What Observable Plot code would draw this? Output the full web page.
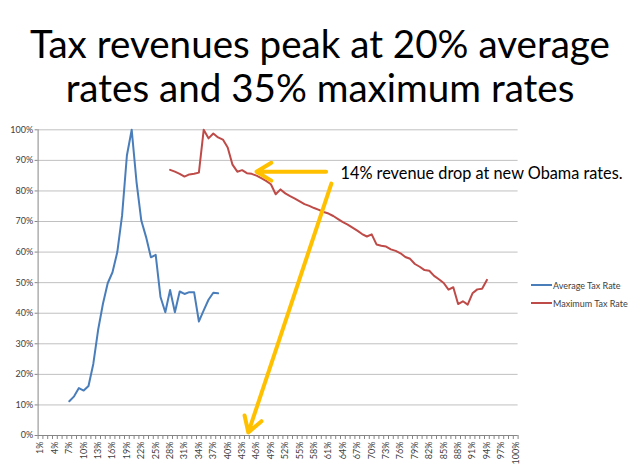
<!DOCTYPE html>
<html><head><meta charset="utf-8">
<script src="https://cdn.jsdelivr.net/npm/d3@7"></script>
<script src="https://cdn.jsdelivr.net/npm/@observablehq/plot@0.6"></script>
<style>
body{margin:0;background:#fff;font-family:Lato,sans-serif}
#wrap{position:relative;width:640px;height:470px;overflow:hidden;background:#fff}
#title{position:absolute;left:0;top:21px;width:640px;text-align:center;font-size:38.6px;line-height:44px;color:#000}
#chart{position:absolute;left:0;top:110px}
#legend{position:absolute;left:531px;top:276px;font-size:9px;color:#404040}
.item{display:flex;align-items:center;height:18px;white-space:nowrap}
.sw{width:21px;height:2px;margin-right:1px}
</style></head><body>
<div id="wrap">
<div id="title">Tax revenues peak at 20% average<br>rates and 35% maximum rates</div>
<div id="chart"></div>
<div id="legend"></div>
</div>
<script>
// Categories 1%..100% (tax rate)
const categories = d3.range(1, 101);
const xLabelTicks = d3.range(1, 101, 3);
const yTicks = [0, 10, 20, 30, 40, 50, 60, 70, 80, 90, 100];

const seriesNames = ["Average Tax Rate", "Maximum Tax Rate"];
const seriesColors = ["#4A7EBB", "#BE4B48"];

// Average Tax Rate: revenue index (%), starting at category 7%
const avgStart = 7;
const avgTaxRate = [11.2, 12.8, 15.5, 14.7, 16.2, 23.4, 34.5, 43.0, 49.8, 53.4,
  60.0, 72.0, 91.6, 100, 83.0, 70.3, 64.9, 58.3, 59.1, 45.3,
  40.3, 47.6, 40.3, 47.1, 46.3, 46.9, 46.9, 37.3, 40.9, 44.4,
  46.7, 46.5];

// Maximum Tax Rate: revenue index (%), starting at category 28%
const maxStart = 28;
const maxTaxRate = [86.9, 86.3, 85.6, 84.7, 85.4, 85.6, 86.0, 100, 97.2, 98.8,
  97.5, 96.8, 94.2, 88.6, 86.3, 86.8, 85.8, 85.6, 85.0, 84.2,
  83.3, 82.2, 78.9, 80.5, 79.2, 78.3, 77.5, 76.6, 75.7, 75.1,
  74.4, 73.8, 73.1, 72.6, 71.8, 70.8, 69.8, 69.0, 68.0, 67.0,
  65.9, 65.1, 65.8, 62.5, 62.1, 61.8, 60.9, 60.4, 59.6, 58.4,
  57.8, 56.1, 55.2, 54.1, 53.9, 52.2, 51.1, 49.9, 47.7, 48.5,
  43.0, 43.9, 42.8, 46.5, 47.8, 48.0, 50.9];

const noteText = "14% revenue drop at new Obama rates.";
const noteAt = {x: 63.5, y: 85.6};
const arrows = [
  {x1: 60.5, y1: 86.3, x2: 46.0, y2: 86.3},
  {x1: 61.6, y1: 82.4, x2: 44.3, y2: 1.0}
];

const avg = avgTaxRate.map((v, i) => ({x: categories[avgStart - 1 + i], y: v}));
const max = maxTaxRate.map((v, i) => ({x: categories[maxStart - 1 + i], y: v}));
const boundaries = [0, ...categories].map(c => c + 0.5);

const chart = Plot.plot({
  width: 640, height: 360,
  marginTop: 19.3, marginBottom: 35, marginLeft: 37.6, marginRight: 122.4,
  style: {fontFamily: "Lato, sans-serif", fontSize: "9px", color: "#404040", background: "transparent", overflow: "visible"},
  x: {type: "linear", domain: [0.5, 100.5]},
  y: {domain: [0, 100]},
  marks: [
    Plot.gridY(yTicks, {stroke: "#c0c0c0", strokeOpacity: 1}),
    Plot.axisY(yTicks, {tickFormat: d => d + "%", tickSize: 3, tickPadding: 2, stroke: "#868686", fill: "#404040", label: null}),
    Plot.axisX(boundaries, {tickSize: 4, tickFormat: () => "", stroke: "#868686", label: null}),
    Plot.axisX(xLabelTicks, {tickSize: 0, tickPadding: 6, tickRotate: -90, tickFormat: d => d + "%", fill: "#404040", label: null}),
    Plot.ruleX([0.5], {stroke: "#868686"}),
    Plot.ruleY([0], {stroke: "#868686"}),
    Plot.line(avg, {x: "x", y: "y", stroke: seriesColors[0], strokeWidth: 2}),
    Plot.line(max, {x: "x", y: "y", stroke: seriesColors[1], strokeWidth: 2}),
    Plot.arrow(arrows, {x1: "x1", y1: "y1", x2: "x2", y2: "y2", stroke: "#FFC000", strokeWidth: 4, headLength: 6.5, headAngle: 62}),
    Plot.text([noteAt], {x: "x", y: "y", text: () => noteText, textAnchor: "start", fontSize: 16.3, fill: "#000"})
  ]
});
document.getElementById("chart").appendChild(chart);

const legend = document.getElementById("legend");
seriesNames.forEach((n, i) => {
  const d = document.createElement("div");
  d.className = "item";
  d.innerHTML = `<span class="sw" style="background:${seriesColors[i]}"></span><span>${n}</span>`;
  legend.appendChild(d);
});
</script>
</body></html>
